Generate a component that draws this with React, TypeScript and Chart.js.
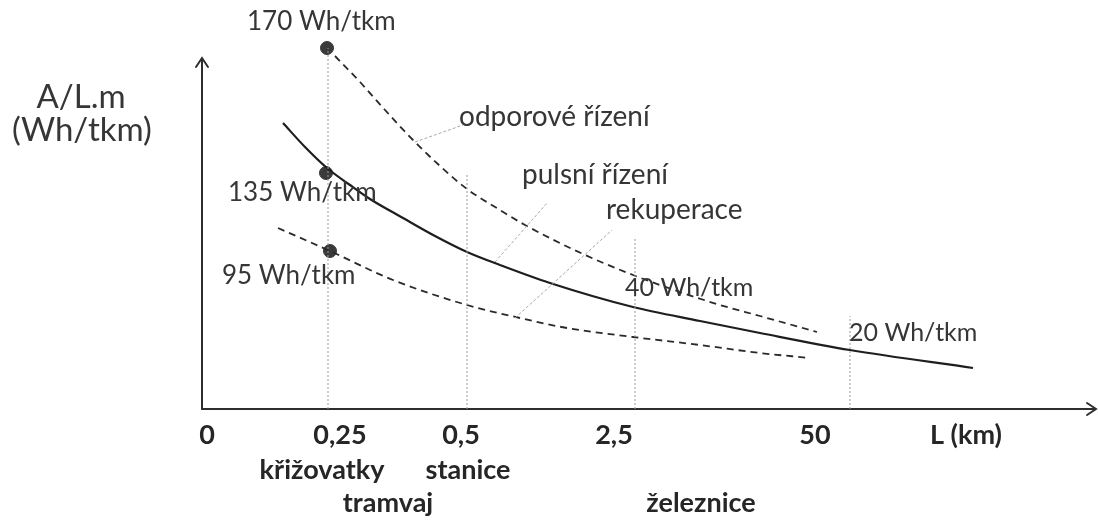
import React, { useEffect, useRef } from "react";
import { Chart, registerables } from "chart.js";

Chart.register(...registerables);

// Schematic units: x = distance right of origin, y = height above the L axis
const upperX = [133, 158, 183, 211, 238, 265, 298, 323, 381, 431, 478, 518, 558, 615];
const upperY = [353, 327, 299, 269, 243, 220, 199, 184, 155, 134, 117, 104, 93, 77];

const pulseX = [81, 103, 125, 148, 168, 201, 233, 265, 298, 348, 431, 498, 558, 648, 771];
const pulseY = [286, 262, 241, 224, 210, 191, 173, 157, 144, 126, 102, 88, 76, 59, 41];

const recupX = [76, 128, 191, 265, 318, 365, 431, 498, 558, 608];
const recupY = [181, 158, 129, 104, 91, 81, 72, 64, 56, 51];

const dotX = [125, 124, 128];
const dotY = [361, 236, 158];
const dotLabels = ["170 Wh/tkm", "135 Wh/tkm", "95 Wh/tkm"];

const gridX = [126, 265, 433, 648];
const gridTop = [361, 236, 172, 93];

const leaderX1 = [213, 293, 313];
const leaderY1 = [267, 147, 91];
const leaderX2 = [261, 346, 410];
const leaderY2 = [284, 207, 179];

const tickLabels = ["0", "0,25", "0,5", "2,5", "50", "L (km)"];
const tickPos = [5, 138, 259, 412, 613, 764];
const useLabels = ["křižovatky", "stanice", "tramvaj", "železnice"];
const usePos = [120, 266, 186, 499];
const useRow = [0, 0, 1, 1];

const curveNames = ["odporové řízení", "pulsní řízení", "rekuperace"];
const valueNotes = ["40 Wh/tkm", "20 Wh/tkm"];

const pts = (xs: number[], ys: number[]) => xs.map((x, i) => ({ x, y: ys[i] }));

const overlay = {
  id: "overlay",
  beforeDatasetsDraw(chart: any) {
    const { ctx, scales } = chart;
    const X = (v: number) => scales.x.getPixelForValue(v);
    const Y = (v: number) => scales.y.getPixelForValue(v);
    ctx.save();
    ctx.strokeStyle = "#2e2e2e";
    ctx.lineWidth = 2;
    ctx.lineCap = "round";
    const ox = X(0), oy = Y(0);
    const ty = Y(351);
    ctx.beginPath();
    ctx.moveTo(ox, oy);
    ctx.lineTo(ox, ty);
    ctx.moveTo(ox - 6, ty + 9);
    ctx.lineTo(ox, ty);
    ctx.lineTo(ox + 6, ty + 9);
    ctx.stroke();
    const tx = X(894);
    ctx.beginPath();
    ctx.moveTo(ox, oy);
    ctx.lineTo(tx, oy);
    ctx.moveTo(tx - 9, oy - 6);
    ctx.lineTo(tx, oy);
    ctx.lineTo(tx - 9, oy + 6);
    ctx.stroke();
    ctx.restore();
  },
  afterDatasetsDraw(chart: any) {
    const { ctx, scales } = chart;
    const X = (v: number) => scales.x.getPixelForValue(v);
    const Y = (v: number) => scales.y.getPixelForValue(v);
    const txt = (s: string, x: number, y: number, font: string, align: CanvasTextAlign, color: string) => {
      ctx.font = font;
      ctx.textAlign = align;
      ctx.textBaseline = "middle";
      ctx.fillStyle = color;
      ctx.fillText(s, X(x), Y(y));
    };
    ctx.save();
    const c = "#363636";
    txt("A/L.m", -121, 312, "33px Lato", "center", c);
    txt("(Wh/tkm)", -120, 279, "33px Lato", "center", c);
    const dlx = [45, 26, 20];
    const dly = [387, 216, 133];
    dotLabels.forEach((s, i) => txt(s, dlx[i], dly[i], "26px Lato", "left", c));
    const cnx = [257, 320, 404];
    const cny = [292, 234, 199];
    curveNames.forEach((s, i) => txt(s, cnx[i], cny[i], "28px Lato", "left", c));
    const vnx = [423, 647];
    const vny = [121, 76];
    valueNotes.forEach((s, i) => txt(s, vnx[i], vny[i], "25px Lato", "left", c));
    const bold = "bold 27px Lato";
    tickLabels.forEach((s, i) => txt(s, tickPos[i], -26, bold, "center", "#262626"));
    useLabels.forEach((s, i) => txt(s, usePos[i], useRow[i] === 0 ? -61 : -94, bold, "center", "#262626"));
    ctx.restore();
  },
};

export default function App() {
  const ref = useRef<HTMLCanvasElement | null>(null);
  useEffect(() => {
    if (!ref.current) return;
    const grid = gridX.map((x, i) => ({
      type: "line" as const,
      data: [{ x, y: 0 }, { x, y: gridTop[i] }],
      borderColor: "#9a9a9a",
      borderWidth: 1,
      borderDash: [2, 2],
      pointRadius: 0,
    }));
    const leaders = leaderX1.map((x, i) => ({
      type: "line" as const,
      data: [{ x, y: leaderY1[i] }, { x: leaderX2[i], y: leaderY2[i] }],
      borderColor: "#a8a8a8",
      borderWidth: 1,
      borderDash: [3, 2],
      pointRadius: 0,
    }));
    const chart = new Chart(ref.current, {
      type: "line",
      data: {
        datasets: [
          ...grid,
          ...leaders,
          {
            label: curveNames[0],
            data: pts(upperX, upperY),
            borderColor: "#2a2a2a",
            borderWidth: 1.8,
            borderDash: [7, 5],
            pointRadius: 0,
            cubicInterpolationMode: "monotone",
          },
          {
            label: curveNames[1],
            data: pts(pulseX, pulseY),
            borderColor: "#1e1e1e",
            borderWidth: 2.2,
            pointRadius: 0,
            cubicInterpolationMode: "monotone",
          },
          {
            label: curveNames[2],
            data: pts(recupX, recupY),
            borderColor: "#2a2a2a",
            borderWidth: 1.8,
            borderDash: [7, 5],
            pointRadius: 0,
            cubicInterpolationMode: "monotone",
          },
          {
            label: "body",
            data: pts(dotX, dotY),
            showLine: false,
            pointRadius: 6.5,
            pointBackgroundColor: "#3a3a3a",
            pointBorderColor: "#3a3a3a",
          },
        ] as any,
      },
      options: {
        animation: false,
        responsive: true,
        maintainAspectRatio: false,
        layout: { padding: 0, autoPadding: false },
        plugins: { legend: { display: false }, tooltip: { enabled: false } },
        scales: {
          x: { type: "linear", min: -202, max: 896, display: false },
          y: { type: "linear", min: -113, max: 409, display: false },
        },
      },
      plugins: [overlay],
    });
    return () => chart.destroy();
  }, []);
  return (
    <div style={{ position: "absolute", left: 0, top: 0, width: 1098, height: 522, background: "#fff" }}>
      <canvas ref={ref} />
    </div>
  );
}
